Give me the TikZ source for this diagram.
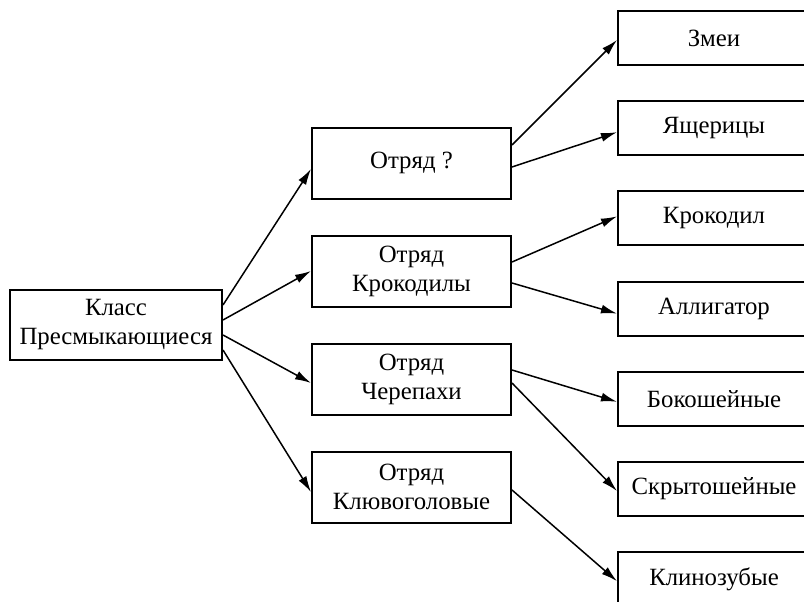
\documentclass[tikz,border=0pt]{standalone}
\usepackage{fontspec}
\setmainfont{Liberation Serif}
\usetikzlibrary{positioning, arrows.meta}

\begin{document}
\begin{tikzpicture}[x=1pt,y=1pt,
	box/.style={draw,line width=2pt,align=center,inner sep=0pt,font=\fontsize{24.8}{29}\selectfont},
	klassbox/.style={box,minimum width=212pt,minimum height=70pt},
	otrbox/.style={box,minimum width=199pt,minimum height=71pt},
	vidbox/.style={box,minimum width=192pt,minimum height=54pt},
	arr/.style={line width=1.5pt,-{Latex[length=16pt,width=9pt]}}]
	\useasboundingbox (0,0) rectangle (804,-602);
	\draw node (klass)[klassbox] at (116,-325) {Класс\\Пресмыкающиеся};
	\draw node (otr1)[otrbox] at (411.5,-163) {Отряд ?};
	\draw node (otr2)[otrbox,below=35pt of otr1] {Отряд\\Крокодилы};
	\draw node (otr3)[otrbox,below=35pt of otr2] {Отряд\\Черепахи};
	\draw node (otr4)[otrbox,below=35pt of otr3] {Отряд\\Клювоголовые};
	\draw node (zmei)[vidbox] at (714,-38) {Змеи};
	\draw node (yashch)[vidbox,below=34.2pt of zmei] {Ящерицы};
	\draw node (krok)[vidbox,below=34.2pt of yashch] {Крокодил};
	\draw node (allig)[vidbox,below=34.2pt of krok] {Аллигатор};
	\draw node (bokosh)[vidbox,below=34.2pt of allig] {Бокошейные};
	\draw node (skryt)[vidbox,below=34.2pt of bokosh] {Скрытошейные};
	\draw node (klino)[vidbox,below=34.2pt of skryt] {Клинозубые};
	\draw[arr] ([yshift=20]klass.east) -- ([yshift=-6]otr1.west);
	\draw[arr] ([yshift=5]klass.east) -- (otr2.west);
	\draw[arr] ([yshift=-10]klass.east) -- ([yshift=-4]otr3.west);
	\draw[arr] ([yshift=-25]klass.east) -- ([yshift=-5]otr4.west);
	\draw[arr] ([yshift=18]otr1.east) -- ([yshift=-2]zmei.west);
	\draw[arr] ([yshift=-4]otr1.east) -- ([yshift=-4]yashch.west);
	\draw[arr] ([yshift=9]otr2.east) -- ([yshift=2]krok.west);
	\draw[arr] ([yshift=-12]otr2.east) -- ([yshift=-5]allig.west);
	\draw[arr] ([yshift=9]otr3.east) -- ([yshift=-3]bokosh.west);
	\draw[arr] ([yshift=-4]otr3.east) -- ([yshift=-2]skryt.west);
	\draw[arr] ([yshift=-3]otr4.east) -- ([yshift=-2]klino.west);
\end{tikzpicture}
\end{document}
